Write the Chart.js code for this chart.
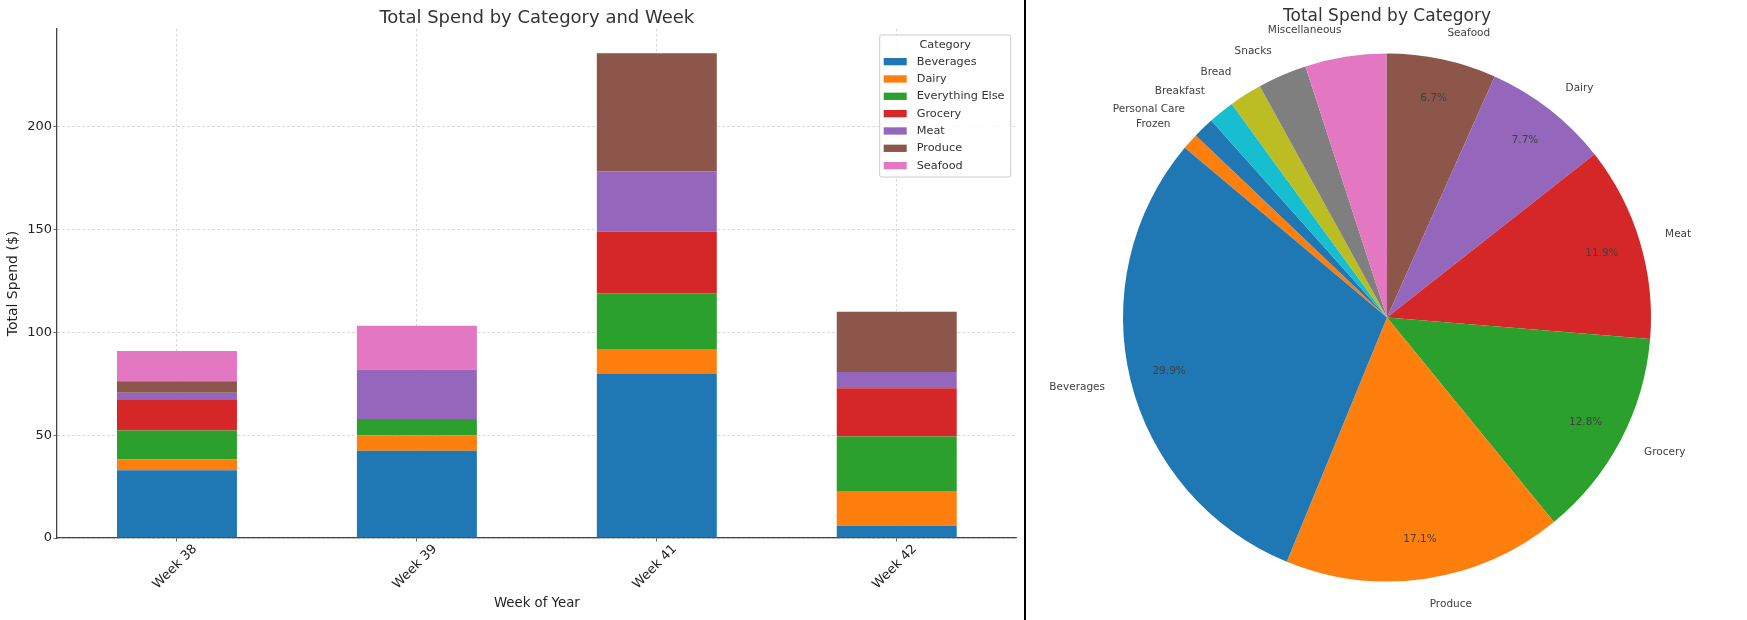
<!DOCTYPE html>
<html>
<head>
<meta charset="utf-8">
<title>Total Spend</title>
<script src="https://cdn.jsdelivr.net/npm/chart.js@4.4.0/dist/chart.umd.min.js"></script>
<style>
  body { margin: 0; background: #fff; }
  #wrap { position: relative; width: 1747px; height: 620px; }
  #barBox { position: absolute; left: 0; top: 0; width: 1024px; height: 620px; }
  #pieBox { position: absolute; left: 1027px; top: 0; width: 720px; height: 620px; }
  #divider { position: absolute; left: 1024px; top: 0; width: 2px; height: 620px; background: #000; }
</style>
</head>
<body>
<div id="wrap">
  <div id="barBox"><canvas id="barChart"></canvas></div>
  <div id="divider"></div>
  <div id="pieBox"><canvas id="pieChart"></canvas></div>
</div>
<script>
// weekly spend per category ($)
const weeks = ["Week 38", "Week 39", "Week 41", "Week 42"];
const categories = ["Beverages", "Dairy", "Everything Else", "Grocery", "Meat", "Produce", "Seafood"];
const beverages = [33.0, 42.5, 80.0, 6.0];
const dairy = [5.2, 7.5, 11.9, 16.9];
const everythingElse = [14.1, 7.9, 27.1, 26.5];
const grocery = [15.2, 0, 30.0, 23.5];
const meat = [3.1, 24.1, 29.4, 7.8];
const produce = [5.7, 0, 57.4, 29.3];
const seafood = [14.7, 21.2, 0, 0];
const yTicks = [0, 50, 100, 150, 200];

// total spend per category ($), largest first
const pieLabels = ["Beverages", "Produce", "Grocery", "Meat", "Dairy", "Seafood",
  "Miscellaneous", "Snacks", "Bread", "Breakfast", "Personal Care", "Frozen"];
const pieValues = [161.5, 92.3, 69.1, 64.3, 41.6, 36.2, 26.9, 16.2, 10.8, 8.6, 7.0, 5.4];

const tab10 = ["#1f77b4", "#ff7f0e", "#2ca02c", "#d62728", "#9467bd",
  "#8c564b", "#e377c2", "#7f7f7f", "#bcbd22", "#17becf"];

Chart.defaults.font.family = "'DejaVu Sans', sans-serif";
Chart.defaults.animation = false;

const titleText = {
  id: "titleText",
  afterDraw(chart, args, opts) {
    const ctx = chart.ctx;
    const area = chart.chartArea;
    ctx.save();
    ctx.font = opts.size + "px 'DejaVu Sans'";
    ctx.fillStyle = "#333";
    ctx.textAlign = "center";
    ctx.textBaseline = "alphabetic";
    ctx.fillText(opts.text, (area.left + area.right) / 2, opts.baseline);
    ctx.restore();
  }
};

const legendBox = {
  id: "legendBox",
  afterDraw(chart) {
    const ctx = chart.ctx;
    const area = chart.chartArea;
    const w = 131, h = 142;
    const x = area.right - 6 - w, y = area.top + 6;
    ctx.save();
    ctx.fillStyle = "rgba(255,255,255,0.8)";
    ctx.strokeStyle = "#cccccc";
    ctx.lineWidth = 1;
    ctx.beginPath();
    ctx.roundRect(x, y, w, h, 2);
    ctx.fill();
    ctx.stroke();
    ctx.font = "11.3px 'DejaVu Sans'";
    ctx.textBaseline = "middle";
    ctx.textAlign = "center";
    ctx.fillStyle = "#333";
    ctx.fillText("Category", x + w / 2, y + 10);
    ctx.textAlign = "left";
    chart.data.datasets.forEach((ds, i) => {
      const ry = y + 26.7 + i * 17.33;
      ctx.fillStyle = ds.backgroundColor;
      ctx.fillRect(x + 4, ry - 3.7, 23, 7.3);
      ctx.fillStyle = "#333";
      ctx.fillText(ds.label, x + 37, ry);
    });
    ctx.restore();
  }
};

const pieText = {
  id: "pieText",
  afterDatasetsDraw(chart) {
    const ctx = chart.ctx;
    const meta = chart.getDatasetMeta(0);
    const values = chart.data.datasets[0].data;
    const total = values.reduce((a, b) => a + b, 0);
    ctx.save();
    ctx.font = "10.5px 'DejaVu Sans'";
    ctx.fillStyle = "#404040";
    ctx.textBaseline = "middle";
    meta.data.forEach((arc, i) => {
      const p = arc.getProps(["x", "y", "startAngle", "endAngle", "outerRadius"], true);
      const mid = (p.startAngle + p.endAngle) / 2;
      const cx = Math.cos(mid), cy = Math.sin(mid);
      ctx.textAlign = Math.abs(cx) < 1e-6 ? "center" : (cx > 0 ? "left" : "right");
      ctx.fillText(chart.data.labels[i], p.x + cx * p.outerRadius * 1.1, p.y + cy * p.outerRadius * 1.1);
      const pct = values[i] / total * 100;
      if (pct > 5) {
        ctx.textAlign = "center";
        ctx.fillText(pct.toFixed(1) + "%", p.x + cx * p.outerRadius * 0.85, p.y + cy * p.outerRadius * 0.85);
      }
    });
    ctx.restore();
  }
};

const series = [beverages, dairy, everythingElse, grocery, meat, produce, seafood];
const gridColor = "rgba(180,180,180,0.7)";

new Chart(document.getElementById("barChart"), {
  type: "bar",
  data: {
    labels: weeks,
    datasets: categories.map((c, i) => ({
      label: c,
      data: series[i],
      backgroundColor: tab10[i],
      borderWidth: 0,
      barPercentage: 0.5,
      categoryPercentage: 1.0
    }))
  },
  options: {
    responsive: true,
    maintainAspectRatio: false,
    devicePixelRatio: 1,
    layout: { padding: { top: 29, right: 7.3, left: 0, bottom: 0 } },
    plugins: {
      legend: { display: false },
      tooltip: { enabled: false },
      titleText: { text: "Total Spend by Category and Week", size: 18, baseline: 22.7 }
    },
    scales: {
      x: {
        stacked: true,
        z: 1,
        offset: true,
        grid: { offset: false, color: gridColor, lineWidth: 0.8, tickColor: "#444", tickLength: 3.5, tickBorderDash: [] },
        border: { color: "#444", width: 1.3, dash: [2.5, 2.5] },
        ticks: { color: "#222", font: { size: 13 }, minRotation: 45, maxRotation: 45, padding: 0, labelOffset: 18, autoSkip: false },
        title: { display: true, text: "Week of Year", color: "#222", font: { size: 13.3 }, padding: { top: 0, bottom: 8.5 } },
        afterFit: s => { s.height = 82; s.paddingLeft = 0; s.paddingRight = 0; }
      },
      y: {
        stacked: true,
        z: 1,
        min: 0,
        max: 247.6,
        grid: { color: gridColor, lineWidth: 0.8, tickColor: "#444", tickLength: 3.5, tickBorderDash: [] },
        border: { color: "#444", width: 1.3, dash: [2.5, 2.5] },
        ticks: { color: "#222", font: { size: 13 }, padding: 1.5 },
        afterBuildTicks: s => { s.ticks = yTicks.map(v => ({ value: v })); },
        title: { display: true, text: "Total Spend ($)", color: "#222", font: { size: 14 }, padding: { top: 5, bottom: 0 } },
        afterFit: s => { s.width = 57; s.paddingTop = 0; s.paddingBottom = 0; }
      }
    }
  },
  plugins: [titleText, legendBox]
});

// matplotlib draws counter-clockwise from 140deg; Chart.js goes clockwise, so reverse
const pieColors = pieLabels.map((l, i) => tab10[i % 10]);
new Chart(document.getElementById("pieChart"), {
  type: "pie",
  data: {
    labels: pieLabels.slice().reverse(),
    datasets: [{
      data: pieValues.slice().reverse(),
      backgroundColor: pieColors.slice().reverse(),
      borderWidth: 0
    }]
  },
  options: {
    responsive: true,
    maintainAspectRatio: false,
    devicePixelRatio: 1,
    rotation: -50,
    layout: { padding: { top: 53.5, bottom: 38.5, left: 96, right: 96 } },
    plugins: {
      legend: { display: false },
      tooltip: { enabled: false },
      titleText: { text: "Total Spend by Category", size: 17, baseline: 20.7 }
    }
  },
  plugins: [titleText, pieText]
});
</script>
</body>
</html>
